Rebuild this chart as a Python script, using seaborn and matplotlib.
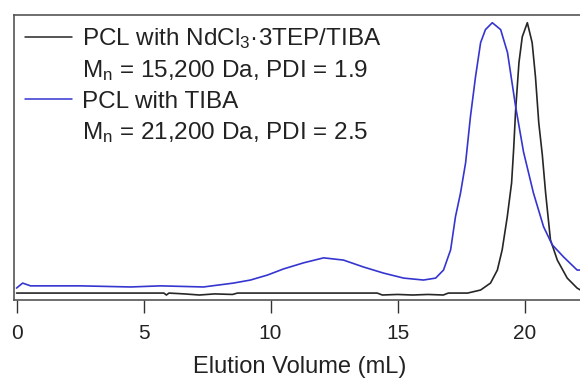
import numpy as np
import pandas as pd
import matplotlib
matplotlib.use("Agg")
import matplotlib.pyplot as plt
from matplotlib.lines import Line2D
import seaborn as sns

# GPC traces (normalised RI signal)
vol_nd = [0.00, 5.80, 5.90, 6.00, 6.60, 7.20, 7.80, 8.50, 8.70, 14.20, 14.40,
          15.00, 15.60, 16.20, 16.80, 17.00, 17.76, 18.27, 18.66, 18.93, 19.12,
          19.32, 19.49, 19.57, 19.65, 19.78, 19.91, 20.11, 20.30, 20.43, 20.56,
          20.70, 20.83, 21.02, 21.29, 21.68, 22.07, 22.20]
sig_nd = [0.025, 0.025, 0.018, 0.025, 0.022, 0.018, 0.022, 0.020, 0.025, 0.025,
          0.018, 0.020, 0.018, 0.020, 0.018, 0.025, 0.025, 0.036, 0.061, 0.108,
          0.181, 0.300, 0.422, 0.542, 0.686, 0.856, 0.949, 1.000, 0.928, 0.805,
          0.639, 0.523, 0.386, 0.217, 0.144, 0.079, 0.043, 0.036]

vol_tiba = [0.00, 0.24, 0.55, 2.52, 4.49, 5.67, 7.36, 8.54, 9.21, 9.88, 10.51,
            11.30, 12.09, 12.87, 13.66, 14.45, 15.24, 16.02, 16.50, 16.81,
            17.09, 17.28, 17.48, 17.68, 17.87, 18.07, 18.27, 18.46, 18.73,
            19.06, 19.33, 19.65, 19.96, 20.35, 20.75, 21.09, 21.54, 22.07, 22.20]
sig_tiba = [0.043, 0.061, 0.051, 0.051, 0.047, 0.051, 0.047, 0.061, 0.072,
            0.090, 0.112, 0.134, 0.152, 0.144, 0.119, 0.097, 0.079, 0.072,
            0.079, 0.108, 0.181, 0.300, 0.386, 0.495, 0.661, 0.805, 0.928,
            0.975, 1.000, 0.975, 0.892, 0.697, 0.534, 0.386, 0.264, 0.199,
            0.155, 0.108, 0.108]

labels = [r"PCL with NdCl$_\mathregular{3}$·3TEP/TIBA",
          r"M$_\mathregular{n}$ = 15,200 Da, PDI = 1.9",
          "PCL with TIBA",
          r"M$_\mathregular{n}$ = 21,200 Da, PDI = 2.5"]
xticks = [0, 5, 10, 15, 20]

sns.set_style("ticks")
plt.rcParams["font.family"] = ["Liberation Sans", "DejaVu Sans"]
plt.rcParams["mathtext.fontset"] = "custom"
plt.rcParams["mathtext.rm"] = "Liberation Sans"
plt.rcParams["mathtext.it"] = "Liberation Sans:italic"

fig = plt.figure(figsize=(5.8, 3.78), dpi=100)
ax = fig.add_axes([14 / 580, 78 / 378, 571.5 / 580, 285.3 / 378])

df_nd = pd.DataFrame({"vol": vol_nd, "sig": sig_nd})
df_tiba = pd.DataFrame({"vol": vol_tiba, "sig": sig_tiba})
sns.lineplot(data=df_nd, x="vol", y="sig", color="#262626", lw=1.2, ax=ax)
sns.lineplot(data=df_tiba, x="vol", y="sig", color="#3535d0", lw=1.2, ax=ax)

ax.set_xlim(-0.1, 22.4)
ax.set_ylim(0, 285 / 277)
ax.set_xticks(xticks)
ax.set_yticks([])
ax.set_ylabel("")
ax.set_xlabel("Elution Volume (mL)", fontsize=17, labelpad=10, color="#222222")
ax.tick_params(axis="x", direction="out", length=9, width=1, pad=8,
               labelsize=15, color="#333333", labelcolor="#222222")
for s in ["left", "bottom", "top"]:
    ax.spines[s].set_color("#555555")
    ax.spines[s].set_linewidth(1.2)
ax.spines["right"].set_visible(False)

blank = Line2D([], [], color="none")
handles = [Line2D([], [], color="#262626", lw=1.1), blank,
           Line2D([], [], color="#3535d0", lw=1.1), blank]
leg = ax.legend(handles, labels, loc="upper left", bbox_to_anchor=(0.019, 0.96),
                frameon=False, fontsize=17.5, handlelength=1.95, handletextpad=0.4,
                labelspacing=0.31, borderaxespad=0, borderpad=0)
for t in leg.get_texts():
    t.set_color("#222222")

fig.savefig("out.png", dpi=100)
